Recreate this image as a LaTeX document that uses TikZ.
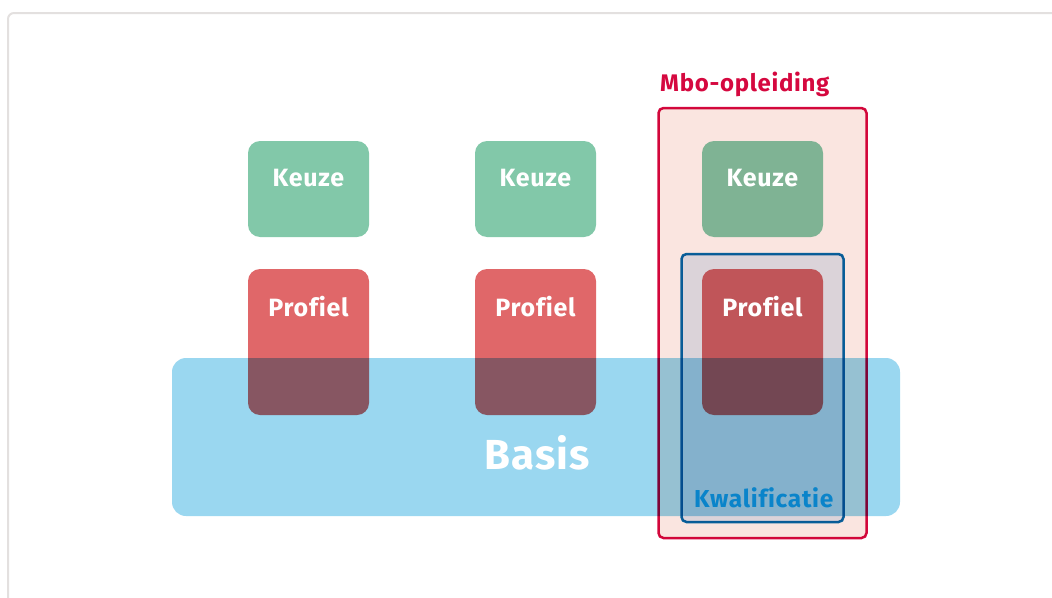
\documentclass[tikz,border=0pt]{standalone}
\usepackage{fontspec}
\newfontfamily\labelfont{Fira Sans}[LetterSpace=3, RawFeature={-liga}]

\definecolor{keuzegreen}{HTML}{82C8A9}
\definecolor{profielred}{HTML}{E06769}
\definecolor{basisblue}{HTML}{9AD7F0}
\definecolor{mbopink}{HTML}{FAE5E0}
\definecolor{mbored}{HTML}{D5083F}
\definecolor{kwalfill}{HTML}{E0ECF8}
\definecolor{kwalblue}{HTML}{0A6CB0}
\definecolor{kwaltext}{HTML}{0A84CA}
\definecolor{framegray}{HTML}{E3E0DF}

\begin{document}
\begin{tikzpicture}[x=1pt,y=-1pt,
	block/.style={inner sep=0pt, rounded corners=12pt, minimum width=121pt},
	keuze/.style={block, fill=keuzegreen, minimum height=96pt},
	profiel/.style={block, fill=profielred, minimum height=146pt},
	boxtext/.style={text=white, anchor=base, inner sep=0pt, font=\labelfont\bfseries\fontsize{25}{30}\selectfont}]

	\useasboundingbox (0,0) rectangle (1052,597);
	\draw[framegray, line width=2pt, rounded corners=6pt] (8,13) rectangle (1090,640);

	\begin{scope}[blend group=multiply]
	\node[draw=mbored, fill=mbopink, line width=2.5pt, rounded corners=5pt, inner sep=0pt, minimum width=208pt, minimum height=430pt] at (762.5, 323)  (mbo) {};
	\node[draw=kwalblue, fill=kwalfill, line width=2.5pt, rounded corners=5pt, inner sep=0pt, minimum width=162pt, minimum height=268pt] at (762.5, 388)  (kwal) {};

	\node[keuze] at (308.5, 189)  (k1) {};
	\node[keuze] at (535.5, 189)  (k2) {};
	\node[keuze] at (762.5, 189)  (k3) {};

	\node[profiel] at (308.5, 342)  (p1) {};
	\node[profiel] at (535.5, 342)  (p2) {};
	\node[profiel] at (762.5, 342)  (p3) {};

	\node[fill=basisblue, inner sep=0pt, rounded corners=14pt, minimum width=728pt, minimum height=158pt] at (536, 437)  (basis) {};
	\end{scope}

	\node[boxtext] at ([yshift=-46pt]k1.north)  (k1t) {Keuze};
	\node[boxtext] at ([yshift=-46pt]k2.north)  (k2t) {Keuze};
	\node[boxtext] at ([yshift=-46pt]k3.north)  (k3t) {Keuze};

	\node[boxtext] at ([yshift=-48pt]p1.north)  (p1t) {Profiel};
	\node[boxtext] at ([yshift=-48pt]p2.north)  (p2t) {Profiel};
	\node[boxtext] at ([yshift=-48pt]p3.north)  (p3t) {Profiel};

	\node[boxtext, font=\labelfont\bfseries\fontsize{42}{48}\selectfont] at (537, 469)  (basist) {Basis};

	\node[boxtext, anchor=base west, text=mbored, font=\labelfont\bfseries\fontsize{24}{28}\selectfont] at (660, 91)  (mbot) {Mbo-opleiding};
	\node[boxtext, anchor=base west, text=kwaltext, font=\labelfont\bfseries\fontsize{24.5}{28}\selectfont] at (694, 507)  (kwalt) {Kwalificatie};
\end{tikzpicture}
\end{document}
